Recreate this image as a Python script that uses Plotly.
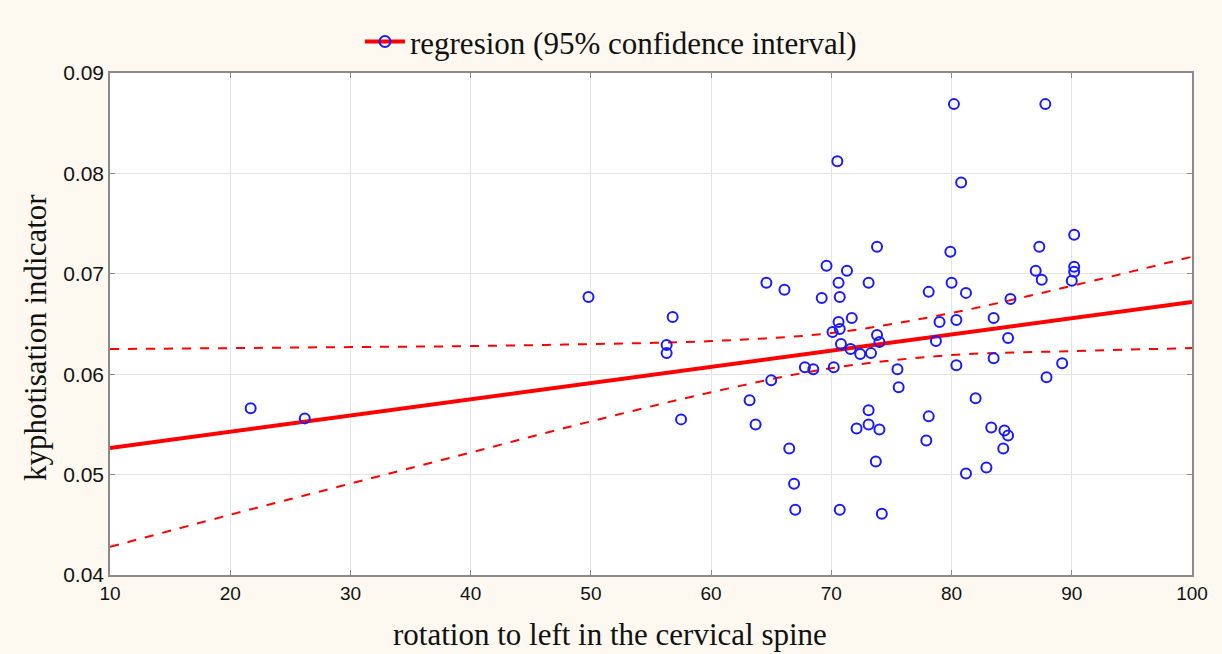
import plotly.graph_objects as go

# scatter data: rotation to left (deg) vs kyphotisation indicator
rot = [21.7, 26.2, 49.8, 56.8, 56.3, 56.3, 57.5, 63.2, 63.7, 65.0,
       64.6, 66.1, 66.5, 66.9, 67.0, 67.8, 68.5, 69.2, 69.6, 70.1,
       70.2, 70.5, 70.6, 70.6, 70.7, 70.7, 70.8, 70.7, 71.7, 71.6,
       72.4, 73.3, 73.8, 74.0, 75.5, 75.6, 73.1, 72.1, 73.1, 74.0,
       73.7, 74.2, 73.8, 71.3, 73.1, 80.2, 87.8, 80.8, 90.2, 87.3,
       79.9, 87.0, 87.5, 90.2, 90.2, 90.0, 80.0, 78.1, 81.2, 84.9,
       79.0, 80.4, 83.5, 78.7, 84.7, 83.5, 80.4, 89.2, 87.9, 82.0,
       78.1, 77.9, 83.3, 84.4, 84.7, 84.3, 82.9, 81.2]
kyph = [0.0566, 0.0556, 0.0677, 0.0657, 0.0629, 0.0621, 0.0555, 0.0574, 0.0550, 0.0594,
        0.0691, 0.0684, 0.0526, 0.0491, 0.0465, 0.0607, 0.0605, 0.0676, 0.0708, 0.0642,
        0.0607, 0.0812, 0.0652, 0.0691, 0.0677, 0.0465, 0.0630, 0.0645, 0.0656, 0.0625,
        0.0620, 0.0621, 0.0639, 0.0632, 0.0605, 0.0587, 0.0564, 0.0546, 0.0550, 0.0545,
        0.0513, 0.0461, 0.0727, 0.0703, 0.0691, 0.0869, 0.0869, 0.0791, 0.0739, 0.0727,
        0.0722, 0.0703, 0.0694, 0.0707, 0.0702, 0.0693, 0.0691, 0.0682, 0.0681, 0.0675,
        0.0652, 0.0654, 0.0656, 0.0633, 0.0636, 0.0616, 0.0609, 0.0611, 0.0597, 0.0576,
        0.0558, 0.0534, 0.0547, 0.0544, 0.0539, 0.0526, 0.0507, 0.0501]

# regression line and 95% confidence band
fit_x = [10, 100]
fit_y = [0.05265, 0.0672]
ci_x = [10, 20, 30, 40, 50, 60, 70, 80, 90, 100]
ci_upper = [0.0625, 0.0626, 0.0627, 0.0628, 0.0630, 0.0633, 0.0641, 0.0661, 0.0688, 0.0717]
ci_lower = [0.0428, 0.0460, 0.0491, 0.0522, 0.0553, 0.0582, 0.0606, 0.0619, 0.0623, 0.0626]

x_ticks = [10, 20, 30, 40, 50, 60, 70, 80, 90, 100]
y_ticks = [0.04, 0.05, 0.06, 0.07, 0.08, 0.09]

RED = "#ff0000"
BLUE = "#1a1aff"
SERIF = "Liberation Serif, Times New Roman, serif"

fig = go.Figure()
fig.add_trace(go.Scatter(x=ci_x, y=ci_upper, mode="lines", line=dict(color=RED, width=2, dash="dash", shape="spline"),
                         showlegend=False, hoverinfo="skip"))
fig.add_trace(go.Scatter(x=ci_x, y=ci_lower, mode="lines", line=dict(color=RED, width=2, dash="dash", shape="spline"),
                         showlegend=False, hoverinfo="skip"))
fig.add_trace(go.Scatter(x=fit_x, y=fit_y, mode="lines", line=dict(color=RED, width=4),
                         showlegend=False))
fig.add_trace(go.Scatter(x=rot, y=kyph, mode="markers",
                         marker=dict(symbol="circle-open", size=10, color=BLUE, line=dict(width=2, color=BLUE)),
                         showlegend=False))
# legend entry: red line with blue open circle
fig.add_trace(go.Scatter(x=[None], y=[None], mode="lines+markers",
                         line=dict(color=RED, width=4),
                         marker=dict(symbol="circle-open", size=11, color=BLUE, line=dict(width=2, color=BLUE)),
                         name="regresion (95% confidence interval)"))

axis_common = dict(showline=True, linecolor="#8a8a8a", linewidth=1.5, mirror="ticks",
                   showgrid=True, gridcolor="#e4e4e4", gridwidth=1,
                   ticks="inside", ticklen=5, tickcolor="#8a8a8a", zeroline=False)

fig.update_layout(
    width=1222, height=654,
    paper_bgcolor="#fdf9f0", plot_bgcolor="#ffffff",
    margin=dict(l=110, r=30, t=73, b=79),
    showlegend=True,
    legend=dict(orientation="h", x=0.463, xanchor="center", y=1.062, yanchor="middle",
                font=dict(family=SERIF, size=31, color="#111111"),
                bgcolor="rgba(0,0,0,0)", itemwidth=40),
    xaxis=dict(range=[10, 100], tickvals=x_ticks,
               tickfont=dict(family="Liberation Sans, Arial", size=19, color="#111111"),
               **axis_common),
    yaxis=dict(range=[0.04, 0.09], tickvals=y_ticks, tickformat=".2f",
               tickfont=dict(family="Liberation Sans, Arial", size=21, color="#111111"),
               **axis_common),
    annotations=[
        dict(text="rotation to left in the cervical spine", xref="paper", yref="paper",
             x=0.462, y=-0.1195, xanchor="center", yanchor="middle", showarrow=False,
             font=dict(family=SERIF, size=31, color="#111111")),
        dict(text="kyphotisation indicator", xref="paper", yref="paper",
             x=-0.0693, y=0.472, xanchor="center", yanchor="middle", showarrow=False, textangle=-90,
             font=dict(family=SERIF, size=31, color="#111111")),
    ],
)

fig.write_html("out.html", config={"displayModeBar": False},
               post_script="document.body.style.margin='0';document.body.style.background='#fdf9f0';")
